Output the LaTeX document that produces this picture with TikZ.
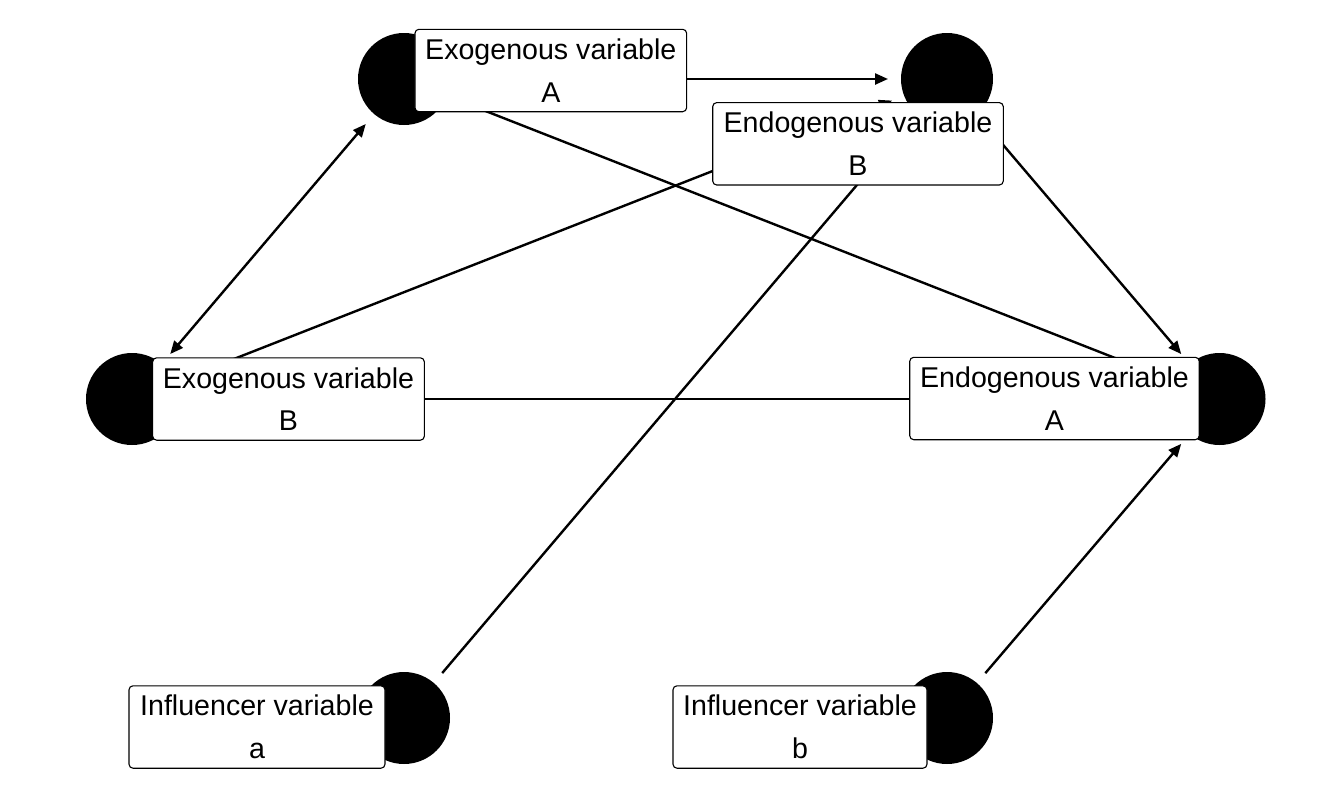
\documentclass[tikz,border=0pt]{standalone}
\usepackage{fontspec}
\setmainfont{Liberation Sans}
\usetikzlibrary{arrows.meta}
\begin{document}
\begin{tikzpicture}[x=1pt,y=-1pt,
  dot/.style={circle,fill=black,minimum size=92pt,inner sep=0pt,outer sep=13pt},
  lab/.style={draw=black,fill=white,line width=1.1pt,rounded corners=4pt,minimum height=82.4pt,inner sep=0pt,align=center,font=\fontsize{28.6}{42.6}\selectfont,execute at begin node={\rule{0pt}{24pt}}},
  conn/.style={line width=2.4pt,-{Triangle[length=13pt,width=11pt]}},
  dconn/.style={line width=2.4pt,{Triangle[length=13pt,width=11pt]}-{Triangle[length=13pt,width=11pt]}},
]
\useasboundingbox (0,0) rectangle (1344,806);
% circles
\node[dot] (c1) at (404,79) {};
\node[dot] (c2) at (947,79) {};
\node[dot] (c3) at (132,399) {};
\node[dot] (c4) at (1219.5,399) {};
\node[dot] (c5) at (404,718) {};
\node[dot] (c6) at (947,718) {};
% connectors
\draw[conn] (c1) -- (c2);
\draw[conn] (c3) -- (c2);
\draw[conn] (c1) -- (c4);
\draw[conn] (c2) -- (c4);
\draw[dconn] (c1) -- (c3);
\draw[conn] (c3) -- (c4);
\draw[conn] (c5) -- (c2);
\draw[conn] (c6) -- (c4);
% labels
\node[lab,minimum width=271.7pt] (l1) at (550.8,70.5) {Exogenous variable\\A};
\node[lab,minimum width=290.6pt] (l2) at (858,143.8) {Endogenous variable\\B};
\node[lab,minimum width=271.7pt] (l3) at (288.5,399) {Exogenous variable\\B};
\node[lab,minimum width=289.5pt] (l4) at (1054.5,398.5) {Endogenous variable\\A};
\node[lab,minimum width=256pt] (l5) at (257,727) {Influencer variable\\a};
\node[lab,minimum width=254pt] (l6) at (800,727) {Influencer variable\\b};
\end{tikzpicture}
\end{document}
